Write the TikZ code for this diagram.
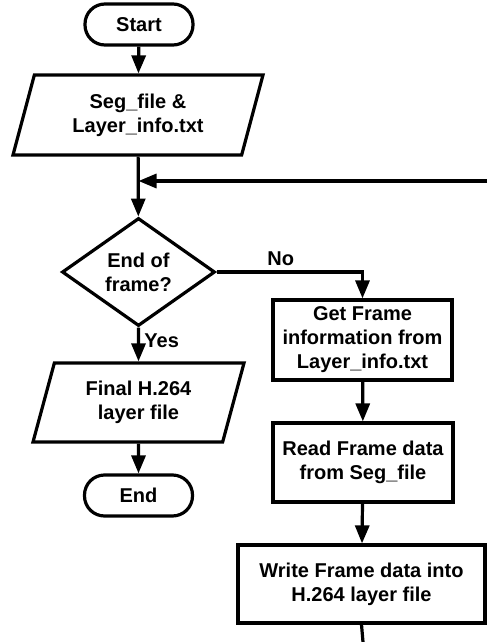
\documentclass[tikz,border=0pt]{standalone}
\usepackage{fontspec}
\setmainfont{Liberation Sans}
\usepackage{xcolor}
\usepackage{tikz}
\usetikzlibrary{shapes.geometric,arrows.meta}
\definecolor{flowcol}{RGB}{0,0,0}

\begin{document}
\begin{tikzpicture}[x=1pt, y=-1pt,
    every node/.style={font=\fontsize{20}{24}\selectfont\bfseries, align=center},
    termbox/.style={draw=flowcol, line width=3.2pt, rounded corners=20pt,
      minimum width=108pt, minimum height=41pt, inner sep=0pt},
    iobox/.style={draw=flowcol, line width=3.2pt, trapezium,
      trapezium left angle=63.4, trapezium right angle=116.6,
      trapezium stretches body=true, inner sep=0pt},
    procbox/.style={draw=flowcol, line width=3.2pt, inner sep=2pt},
    decbox/.style={draw=flowcol, line width=3.2pt, diamond, aspect=1.4,
      inner sep=0pt, minimum width=153pt, minimum height=108pt},
    flowarrow/.style={draw=flowcol, line width=3.2pt,
      -{Triangle[length=18pt, width=14pt]}},
    plainline/.style={draw=flowcol, line width=3.2pt}]

    \useasboundingbox (0,0) rectangle (487,642);

    %% left column
    \node[termbox] (start) at (139,24.5) {Start};
    \node[iobox, minimum width=250pt, minimum height=80pt] (segfile)
      at (138,115) {Seg\_file \&\\Layer\_info.txt};
    \node[decbox] (endframe) at (138.5,272) {End of\\frame?};
    \node[iobox, minimum width=211pt, minimum height=79pt] (finalfile)
      at (138.5,402.5) {Final H.264\\layer file};
    \node[termbox] (stop) at (138.5,495.5) {End};

    %% right column
    \node[procbox, minimum width=179pt, minimum height=80pt] (getinfo)
      at (362.5,340) {Get Frame\\information from\\Layer\_info.txt};
    \node[procbox, minimum width=180pt, minimum height=79pt] (readdata)
      at (363,462.5) {Read Frame data\\from Seg\_file};
    \node[procbox, minimum width=247pt, minimum height=78pt] (writedata)
      at (361.5,584) {Write Frame data into\\H.264 layer file};

    %% loop ends
    \coordinate (loopin) at (487,181);
    \coordinate (loopjoin) at (138.5,181);
    \coordinate (loopout) at (363,642);

    %% connectors
    \draw[flowarrow] (start) -- (segfile);
    \draw[flowarrow] (segfile) -- (endframe);
    \draw[flowarrow] (loopin) -- (loopjoin);
    \draw[flowarrow] (endframe) -- (finalfile)
      node[pos=0.4, right=1pt] {Yes};
    \draw[flowarrow] (finalfile) -- (stop);
    \draw[flowarrow] (endframe.east) -| (getinfo.north)
      node[pos=0.22, above=1pt] {No};
    \draw[flowarrow] (getinfo) -- (readdata);
    \draw[flowarrow] (readdata) -- (writedata);
    \draw[plainline] (writedata.south) -- (loopout);

  \end{tikzpicture}
\end{document}
